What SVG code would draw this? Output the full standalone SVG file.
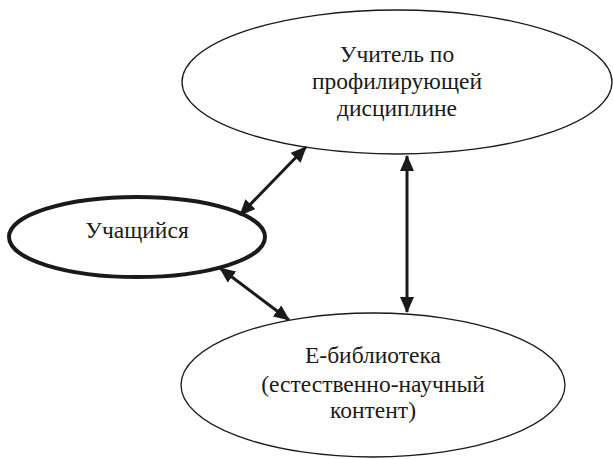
<svg xmlns="http://www.w3.org/2000/svg" width="613" height="459" viewBox="0 0 613 459">
<style>
.node{fill:#fff;stroke:#1a1a1a;stroke-width:1.3}
.thick{stroke-width:4}
.lbl{fill:#1a1a1a;text-anchor:middle}
.conn{stroke:#1a1a1a;stroke-width:3;fill:none}
</style>
<defs>
<marker id="ah" markerUnits="userSpaceOnUse" markerWidth="16" markerHeight="14" viewBox="0 0 16 14" refX="15" refY="7" orient="auto-start-reverse">
<path d="M0,0 L16,7 L0,14 Z" fill="#1a1a1a"/>
</marker>
</defs>
<rect width="613" height="459" fill="#fff"/>
<g id="teacher">
<ellipse class="node" cx="397" cy="82" rx="215" ry="72"/>
<text class="lbl" style="font-family:'Liberation Serif',serif;font-size:23.5px" x="397" y="62">Учитель по</text>
<text class="lbl" style="font-family:'Liberation Serif',serif;font-size:23.5px" x="397" y="89">профилирующей</text>
<text class="lbl" style="font-family:'Liberation Serif',serif;font-size:23.5px" x="397" y="116">дисциплине</text>
</g>
<g id="student">
<ellipse class="node thick" cx="137" cy="237" rx="128" ry="40"/>
<text class="lbl" style="font-family:'Liberation Serif',serif;font-size:23.5px" x="137" y="238">Учащийся</text>
</g>
<g id="library">
<ellipse class="node" cx="373" cy="385" rx="192" ry="72"/>
<text class="lbl" style="font-family:'Liberation Serif',serif;font-size:23.5px" x="373" y="363">Е-библиотека</text>
<text class="lbl" style="font-family:'Liberation Serif',serif;font-size:23.5px" x="373" y="392">(естественно-научный</text>
<text class="lbl" style="font-family:'Liberation Serif',serif;font-size:23.5px" x="373" y="418">контент)</text>
</g>
<g id="connectors">
<line class="conn" x1="240" y1="215" x2="306" y2="147" marker-start="url(#ah)" marker-end="url(#ah)"/>
<line class="conn" x1="220" y1="268" x2="289" y2="320" marker-start="url(#ah)" marker-end="url(#ah)"/>
<line class="conn" x1="407" y1="156" x2="407" y2="312" marker-start="url(#ah)" marker-end="url(#ah)"/>
</g>
</svg>
